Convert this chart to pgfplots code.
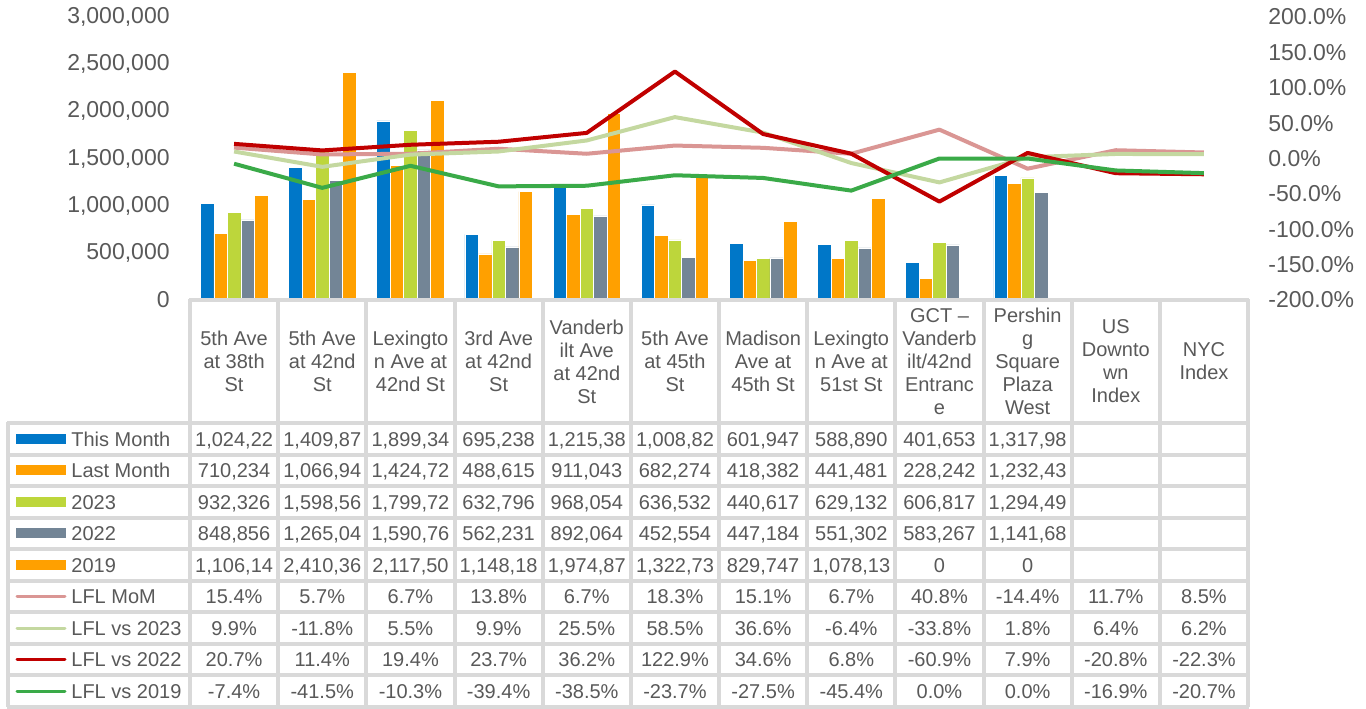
\documentclass[border=0pt]{standalone}
\usepackage{pgfplots}
\usepackage{pgfplotstable}
\pgfplotsset{compat=1.18}
\usepackage{fontspec}
\setmainfont{Liberation Sans}
\definecolor{cBlue}{HTML}{0077C8}
\definecolor{cOrange}{HTML}{FFA000}
\definecolor{cLime}{HTML}{BDD63B}
\definecolor{cGrey}{HTML}{738596}
\definecolor{cPink}{HTML}{DA9694}
\definecolor{cPale}{HTML}{C4D8A0}
\definecolor{cRed}{HTML}{C00000}
\definecolor{cGreen}{HTML}{3AAA48}
\definecolor{cText}{HTML}{595959}
\definecolor{cGrid}{HTML}{D9D9D9}

\pgfplotstableread{
x tm lm ya yb yc
0 1024220 710234 932326 848856 1106140
1 1409870 1066940 1598560 1265040 2410360
2 1899340 1424720 1799720 1590760 2117500
3 695238 488615 632796 562231 1148180
4 1215380 911043 968054 892064 1974870
5 1008820 682274 636532 452554 1322730
6 601947 418382 440617 447184 829747
7 588890 441481 629132 551302 1078130
8 401653 228242 606817 583267 0
9 1317980 1232430 1294490 1141680 0
}\bars

\pgfplotstableread{
x mom va vb vc
0 15.4 9.9 20.7 -7.4
1 5.7 -11.8 11.4 -41.5
2 6.7 5.5 19.4 -10.3
3 13.8 9.9 23.7 -39.4
4 6.7 25.5 36.2 -38.5
5 18.3 58.5 122.9 -23.7
6 15.1 36.6 34.6 -27.5
7 6.7 -6.4 6.8 -45.4
8 40.8 -33.8 -60.9 0.0
9 -14.4 1.8 7.9 0.0
10 11.7 6.4 -20.8 -16.9
11 8.5 6.2 -22.3 -20.7
}\lines

\newcommand\tfont{\fontsize{10}{11.5}\selectfont}
\newcommand\rowvals[2]{%
  \foreach \v [count=\j from 0] in {#2} {%
    \node[cell] at ({234.1+88.17*\j},#1) {\v};}%
}

\begin{document}
\begin{tikzpicture}
\path[use as bounding box] (0,0) rectangle (683pt,354pt);

\begin{axis}[
  at={(95pt,204pt)}, anchor=south west, scale only axis,
  width=529pt, height=141.5pt,
  xmin=-0.5, xmax=11.5, ymin=0, ymax=3000000,
  axis line style={draw=none}, xtick=\empty,
  ytick={0,500000,1000000,1500000,2000000,2500000,3000000},
  major tick length=0pt, scaled y ticks=false,
  /pgf/number format/fixed,
  /pgf/number format/1000 sep={,},
  /pgf/number format/assume math mode=true,
  tick label style={font=\fontsize{11.5}{13}\selectfont, text=cText},
  yticklabel style={inner sep=0pt, xshift=-10pt},
  ybar=0pt, bar width=6.75pt,
  clip=false,
]
\addplot[fill=cBlue, draw=white, line width=0.3pt] table[x=x,y=tm]{\bars};
\addplot[fill=cOrange, draw=white, line width=0.3pt] table[x=x,y=lm]{\bars};
\addplot[fill=cLime, draw=white, line width=0.3pt] table[x=x,y=ya]{\bars};
\addplot[fill=cGrey, draw=white, line width=0.3pt] table[x=x,y=yb]{\bars};
\addplot[fill=cOrange, draw=white, line width=0.3pt] table[x=x,y=yc]{\bars};
\end{axis}

\begin{axis}[
  at={(95pt,204pt)}, anchor=south west, scale only axis,
  width=529pt, height=141.5pt,
  xmin=-0.5, xmax=11.5, ymin=-200, ymax=200,
  axis y line*=right, axis x line=none,
  axis line style={draw=none}, xtick=\empty,
  ytick={-200,-150,-100,-50,0,50,100,150,200},
  major tick length=0pt,
  yticklabel={\pgfmathprintnumber[fixed,fixed zerofill,precision=1,assume math mode=true]{\tick}\%},
  tick label style={font=\fontsize{11.5}{13}\selectfont, text=cText},
  yticklabel style={inner sep=0pt, xshift=10pt, anchor=west},
  clip=false,
]
\addplot[cPink, line width=2pt, line join=round] table[x=x,y=mom]{\lines};
\addplot[cPale, line width=2pt, line join=round] table[x=x,y=va]{\lines};
\addplot[cRed, line width=2pt, line join=round] table[x=x,y=vb]{\lines};
\addplot[cGreen, line width=2pt, line join=round] table[x=x,y=vc]{\lines};
\end{axis}

\begin{scope}[x=0.5pt,y=-0.5pt,shift={(0pt,354pt)},
  cell/.style={inner sep=0pt, text height=7.2pt, text depth=0pt, font=\tfont, text=cText}]
% grid
\draw[cGrid, line width=2pt] (189,300) -- (1249,300);
\foreach \k in {0,...,9} \draw[cGrid, line width=2pt] (7,{423+31.55*\k}) -- (1249,{423+31.55*\k});
\foreach \j in {0,...,12} \draw[cGrid, line width=2pt] ({190+88.17*\j},299) -- ({190+88.17*\j},707);
\draw[cGrid, line width=2pt] (8,422) -- (8,707);

% header labels
\foreach \t [count=\j from 0] in {%
  {5th Ave\\at 38th\\St},
  {5th Ave\\at 42nd\\St},
  {Lexingto\\n Ave at\\42nd St},
  {3rd Ave\\at 42nd\\St},
  {Vanderb\\ilt Ave\\at 42nd\\St},
  {5th Ave\\at 45th\\St},
  {Madison\\Ave at\\45th St},
  {Lexingto\\n Ave at\\51st St},
  {GCT –\\Vanderb\\ilt/42nd\\Entranc\\e},
  {Pershin\\g\\Square\\Plaza\\West},
  {US\\Downto\\wn\\Index},
  {NYC\\Index}}
  \node[align=center, inner sep=0pt, font=\tfont, text=cText] at ({234.1+88.17*\j},361.5) {\t};

% legend column
\fill[cBlue]   (16,{438.8-5}) rectangle (66,{438.8+5});
\fill[cOrange] (16,{470.3-5}) rectangle (66,{470.3+5});
\fill[cLime]   (16,{501.9-5}) rectangle (66,{501.9+5});
\fill[cGrey]   (16,{533.4-5}) rectangle (66,{533.4+5});
\fill[cOrange] (16,{565.0-5}) rectangle (66,{565.0+5});
\draw[cPink, line width=1.5pt, line cap=round] (17,596.5) -- (65,596.5);
\draw[cPale, line width=1.5pt, line cap=round] (17,628.1) -- (65,628.1);
\draw[cRed, line width=1.5pt, line cap=round] (17,659.6) -- (65,659.6);
\draw[cGreen, line width=1.5pt, line cap=round] (17,691.2) -- (65,691.2);
\node[cell, anchor=west] at (71,438.8) {This Month};
\node[cell, anchor=west] at (71,470.3) {Last Month};
\node[cell, anchor=west] at (71,501.9) {2023};
\node[cell, anchor=west] at (71,533.4) {2022};
\node[cell, anchor=west] at (71,565.0) {2019};
\node[cell, anchor=west] at (71,596.5) {LFL MoM};
\node[cell, anchor=west] at (71,628.1) {LFL vs 2023};
\node[cell, anchor=west] at (71,659.6) {LFL vs 2022};
\node[cell, anchor=west] at (71,691.2) {LFL vs 2019};

% values
\rowvals{438.8}{{1,024,22},{1,409,87},{1,899,34},{695,238},{1,215,38},{1,008,82},{601,947},{588,890},{401,653},{1,317,98}}
\rowvals{470.3}{{710,234},{1,066,94},{1,424,72},{488,615},{911,043},{682,274},{418,382},{441,481},{228,242},{1,232,43}}
\rowvals{501.9}{{932,326},{1,598,56},{1,799,72},{632,796},{968,054},{636,532},{440,617},{629,132},{606,817},{1,294,49}}
\rowvals{533.4}{{848,856},{1,265,04},{1,590,76},{562,231},{892,064},{452,554},{447,184},{551,302},{583,267},{1,141,68}}
\rowvals{565.0}{{1,106,14},{2,410,36},{2,117,50},{1,148,18},{1,974,87},{1,322,73},{829,747},{1,078,13},0,0}
\rowvals{596.5}{15.4\%,5.7\%,6.7\%,13.8\%,6.7\%,18.3\%,15.1\%,6.7\%,40.8\%,-14.4\%,11.7\%,8.5\%}
\rowvals{628.1}{9.9\%,-11.8\%,5.5\%,9.9\%,25.5\%,58.5\%,36.6\%,-6.4\%,-33.8\%,1.8\%,6.4\%,6.2\%}
\rowvals{659.6}{20.7\%,11.4\%,19.4\%,23.7\%,36.2\%,122.9\%,34.6\%,6.8\%,-60.9\%,7.9\%,-20.8\%,-22.3\%}
\rowvals{691.2}{-7.4\%,-41.5\%,-10.3\%,-39.4\%,-38.5\%,-23.7\%,-27.5\%,-45.4\%,0.0\%,0.0\%,-16.9\%,-20.7\%}
\end{scope}
\end{tikzpicture}
\end{document}
